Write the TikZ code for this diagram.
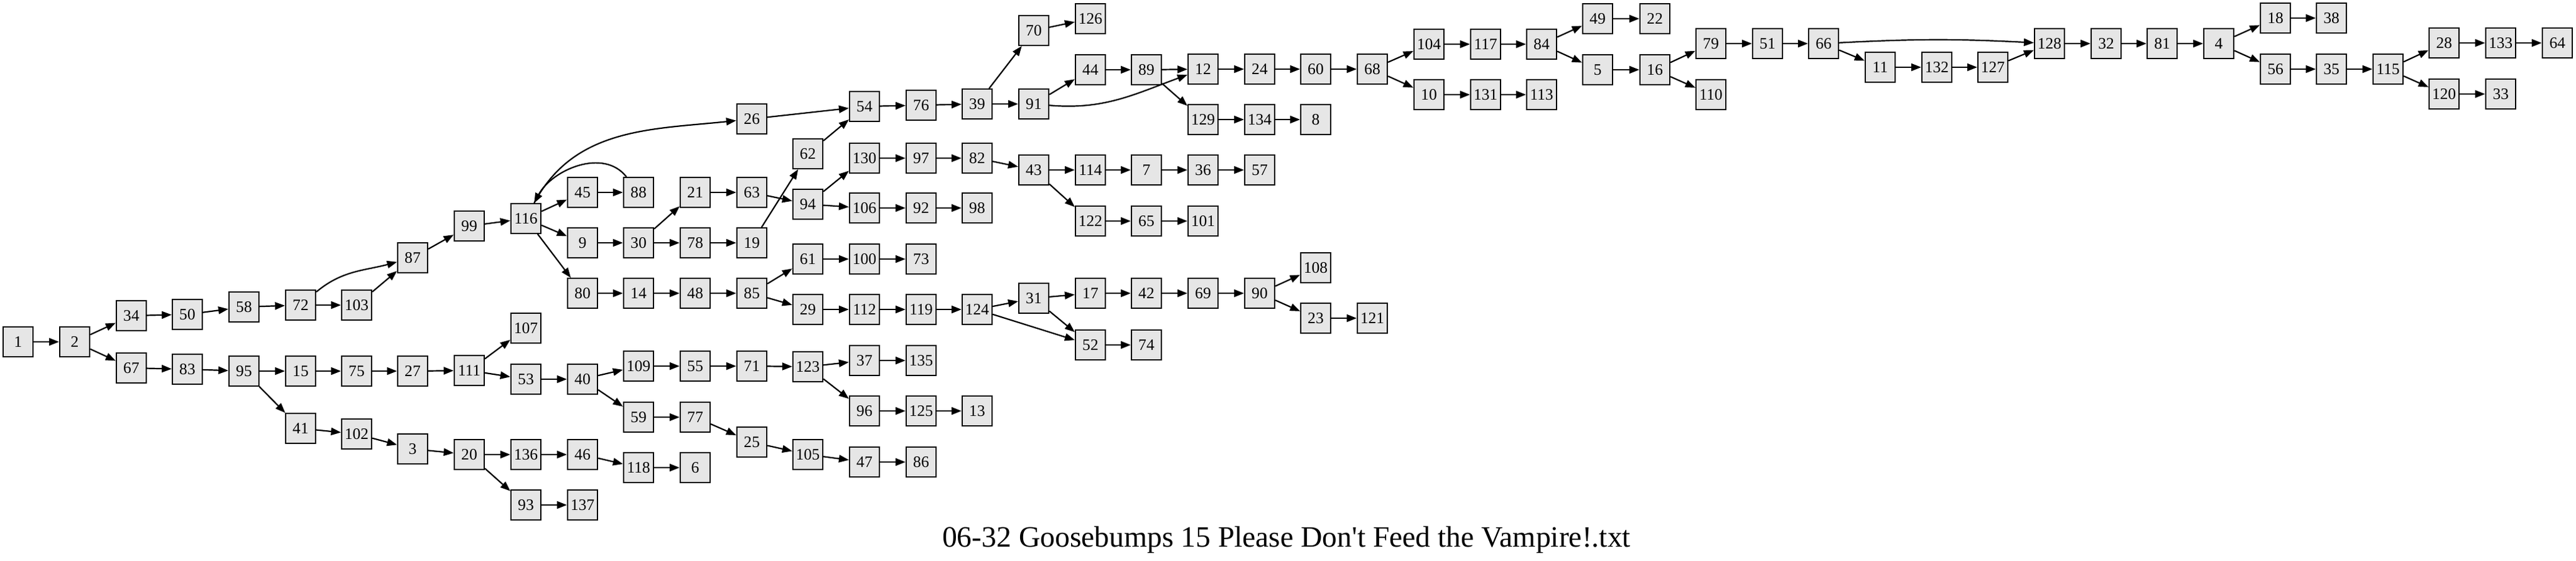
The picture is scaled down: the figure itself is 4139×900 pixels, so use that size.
\documentclass[tikz,border=0pt]{standalone}
\usepackage{fontspec}
\setmainfont{Liberation Serif}
\usetikzlibrary{arrows.meta}
\definecolor{nodegray}{HTML}{E6E6E6}
\tikzset{
  nb/.style={draw=black, line width=0.45pt, fill=nodegray, minimum width=12.1pt, minimum height=12pt, inner sep=0pt, font=\fontsize{6.4}{7}\selectfont},
  edg/.style={-{Triangle[length=4pt,width=3pt]}, line width=0.55pt},
  ttl/.style={font=\fontsize{11.9}{13}\selectfont, inner sep=0pt}
}
\begin{document}
\begin{tikzpicture}[x=0.25pt,y=-0.25pt]
\useasboundingbox[fill=white] (0,0) rectangle (4139,900);
\foreach \id/\px/\py in {
1/29/549, 2/120/549, 34/211/507, 50/301/505, 58/392/493, 72/483/490, 103/573/490, 87/663/414,
67/211/591, 83/301/593, 95/392/596, 15/483/596, 75/573/596, 27/663/596, 41/483/688, 102/573/697, 3/663/721,
99/754/363, 116/845/351, 45/936/309, 88/1026/309, 9/936/390, 30/1026/390, 21/1117/309, 63/1208/309,
78/1117/390, 19/1208/390, 26/1208/191, 80/936/471, 14/1026/471, 48/1117/471, 85/1208/471,
62/1298/247, 94/1298/328, 61/1298/416, 29/1298/497, 107/845/527, 111/754/595, 53/845/609, 40/936/609,
109/1026/588, 55/1117/588, 71/1208/588, 123/1298/589, 59/1026/670, 77/1117/670, 25/1208/710, 105/1298/730,
20/754/730, 136/845/730, 46/936/730, 118/1026/751, 6/1117/751, 93/845/811, 137/936/811,
54/1389/171, 76/1480/169, 39/1570/167, 70/1661/49, 126/1752/30, 91/1661/167, 44/1752/112, 89/1842/112,
12/1933/111, 129/1933/192, 130/1389/254, 97/1480/254, 82/1570/254, 43/1661/273, 114/1752/273, 7/1842/273,
36/1933/273, 106/1389/334, 92/1480/334, 98/1570/334, 122/1752/355, 65/1842/355, 101/1933/355,
100/1389/416, 73/1480/416, 112/1389/497, 119/1480/497, 124/1570/497, 31/1661/479, 17/1752/471, 42/1842/471,
69/1933/471, 52/1752/554, 74/1842/554, 37/1389/579, 135/1480/579, 96/1389/660, 125/1480/660, 13/1570/660,
47/1389/742, 86/1480/742,
24/2024/111, 60/2114/111, 68/2205/111, 104/2296/71, 117/2387/71, 84/2477/71, 49/2567/30, 5/2567/112,
10/2296/152, 131/2387/152, 113/2477/152, 134/2024/192, 8/2114/192, 57/2024/273, 90/2024/471, 108/2114/430,
23/2114/511, 121/2205/511,
22/2659/30, 16/2659/112, 79/2749/70, 110/2749/152, 51/2840/70, 66/2930/70, 11/3021/108, 132/3112/108,
127/3202/108, 128/3293/70, 32/3384/70, 81/3474/70, 4/3565/70, 18/3656/29, 38/3746/29, 56/3656/111,
35/3746/111, 115/3837/111, 28/3927/69, 133/4018/69, 64/4109/69, 120/3927/151, 33/4018/151}
  \node[nb] (n\id) at (\px,\py) {\id};
\foreach \a/\b in {
1/2, 2/34, 2/67, 34/50, 50/58, 58/72, 72/103, 103/87, 87/99, 99/116, 116/45, 116/9, 116/80,
45/88, 9/30, 30/21, 30/78, 21/63, 63/94, 78/19, 19/62, 62/54, 26/54, 94/130, 94/106, 80/14, 14/48,
48/85, 85/61, 85/29, 61/100, 100/73, 29/112, 112/119, 119/124, 124/31, 124/52, 31/17, 31/52, 17/42,
42/69, 69/90, 90/108, 90/23, 23/121, 52/74,
67/83, 83/95, 95/15, 95/41, 15/75, 75/27, 27/111, 111/107, 111/53, 53/40, 40/109, 40/59, 109/55,
55/71, 71/123, 123/37, 123/96, 37/135, 96/125, 125/13, 59/77, 77/25, 25/105, 105/47, 47/86, 41/102,
102/3, 3/20, 20/136, 20/93, 136/46, 46/118, 118/6, 93/137,
54/76, 76/39, 39/70, 39/91, 70/126, 91/44, 44/89, 89/12, 89/129, 12/24, 24/60, 60/68, 68/104,
68/10, 104/117, 117/84, 84/49, 84/5, 49/22, 5/16, 16/79, 16/110, 79/51, 51/66, 66/11, 11/132,
132/127, 127/128, 128/32, 32/81, 81/4, 4/18, 4/56, 18/38, 56/35, 35/115, 115/28, 115/120, 28/133,
133/64, 120/33, 10/131, 131/113, 129/134, 134/8, 130/97, 97/82, 82/43, 43/114, 43/122, 114/7,
7/36, 36/57, 122/65, 65/101, 106/92, 92/98}
  \draw[edg] (n\a) -- (n\b);
\draw[edg] (n72) to[out=40,in=195] (n87);
\draw[edg] (n116) to[out=62,in=186] (n26);
\draw[edg] (n88) to[out=128,in=62] (n116);
\draw[edg] (n91) to[out=-5,in=200] (n12);
\draw[edg] (n66) to[bend left=3] (n128);
\node[ttl] (title) at (2067,867) {06-32 Goosebumps 15 Please Don\textquotesingle t Feed the Vampire!.txt};
\end{tikzpicture}
\end{document}
